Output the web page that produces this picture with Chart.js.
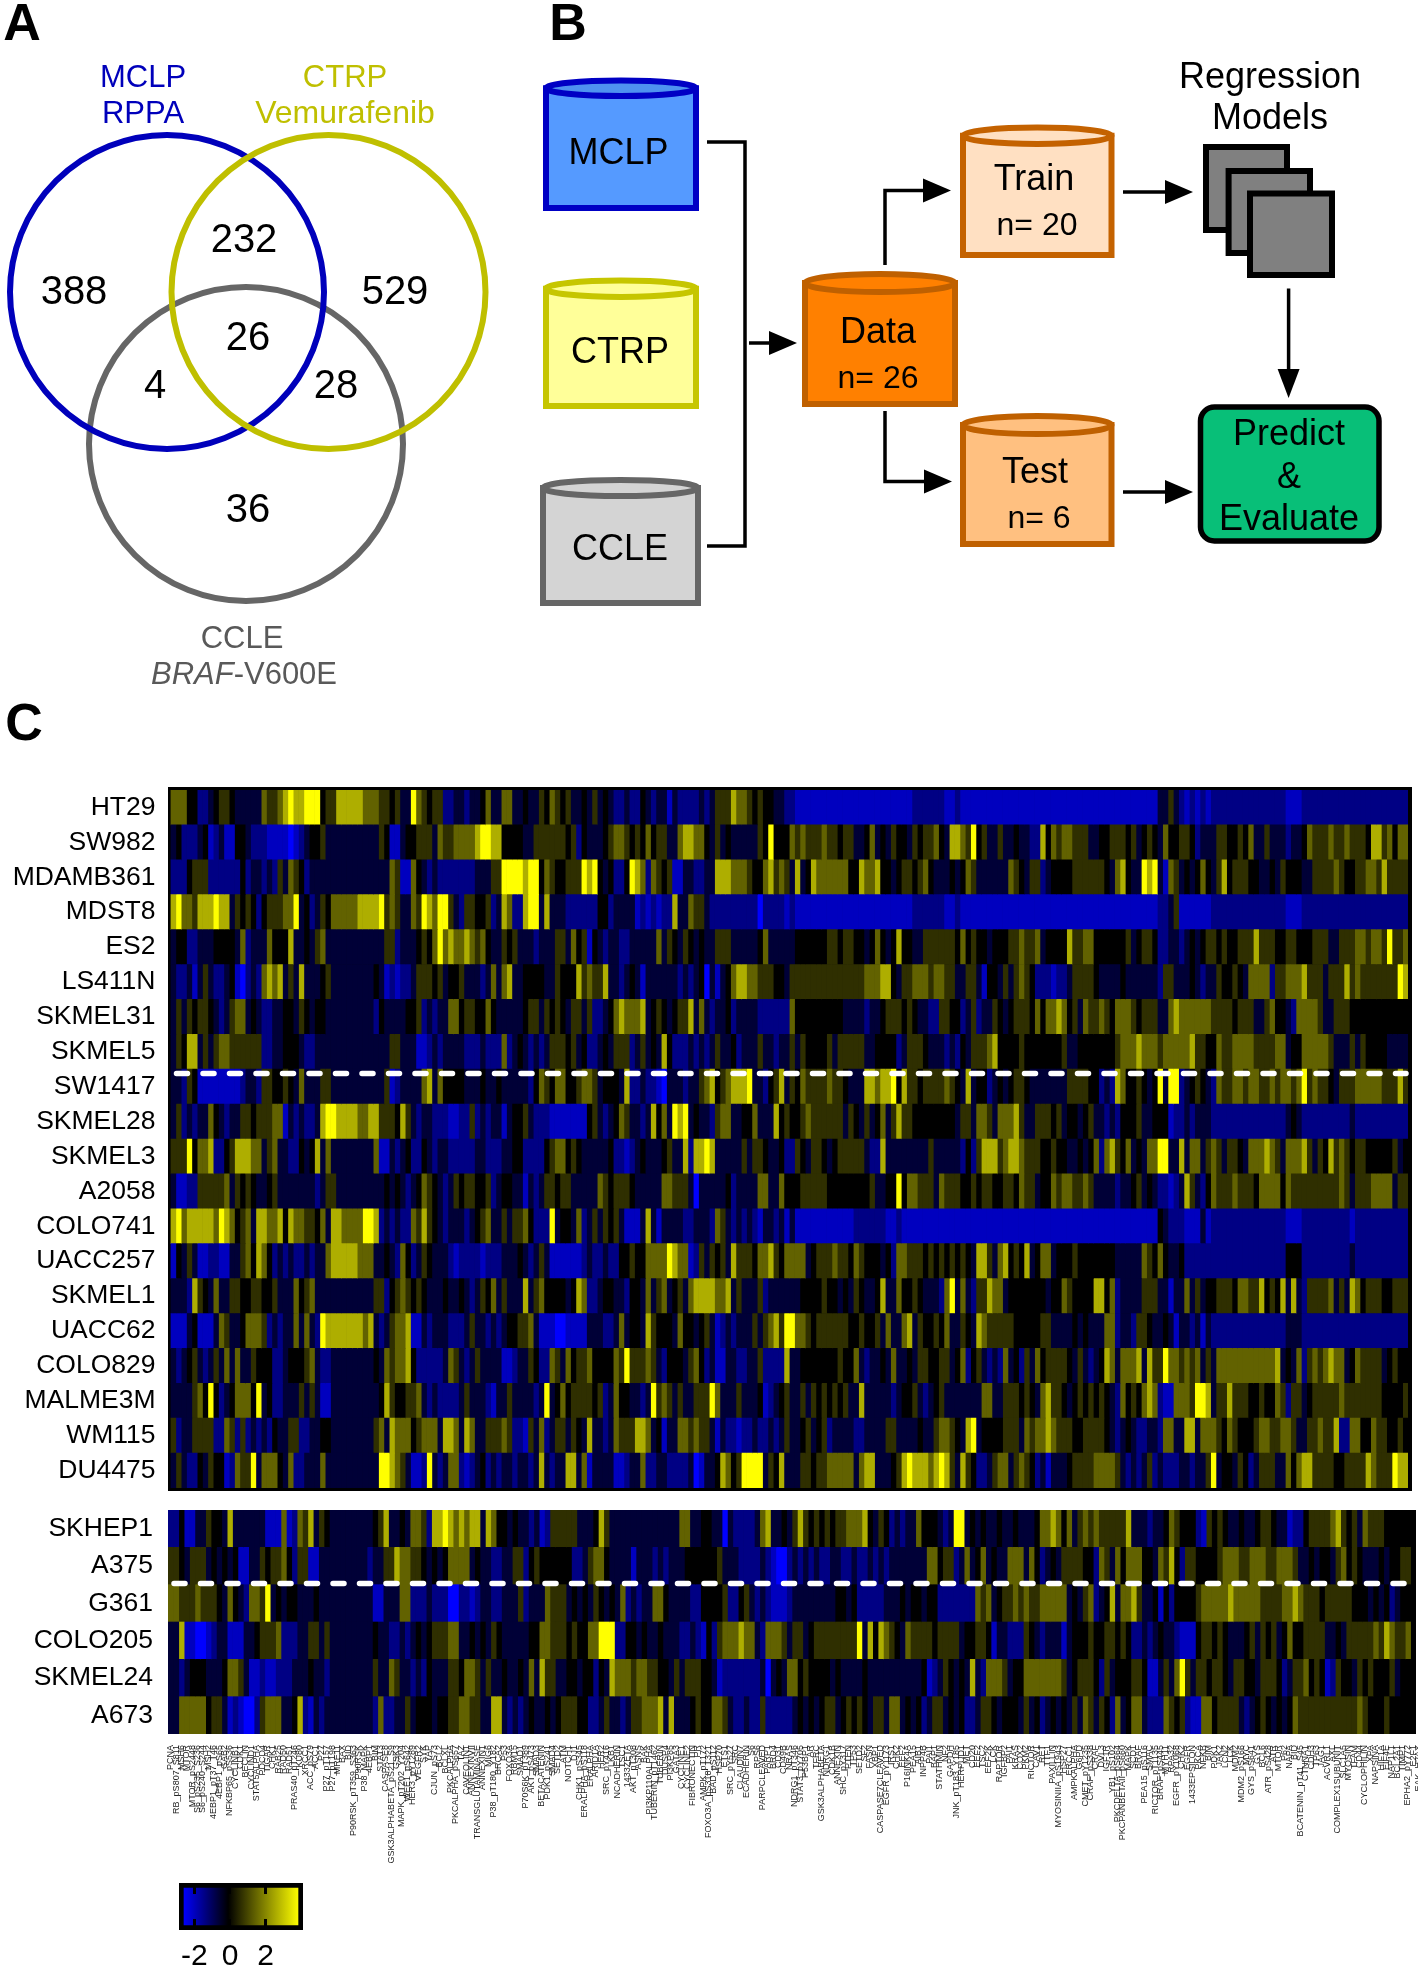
<!DOCTYPE html>
<html>
<head>
<meta charset="utf-8">
<script src="https://cdn.jsdelivr.net/npm/chart.js@4"></script>
<style>
  body { margin: 0; background: #fff; width: 1418px; height: 1967px; position: relative; overflow: hidden; }
  canvas { position: absolute; }
</style>
</head>
<body>
<canvas id="diagram" width="1418" height="780" style="left:0;top:0"></canvas>
<canvas id="heatTop" width="1418" height="720" style="left:0;top:780px"></canvas>
<canvas id="heatBottom" width="1418" height="380" style="left:0;top:1500px"></canvas>
<canvas id="colorbar" width="200" height="97" style="left:150px;top:1870px"></canvas>
<script>
// Panel A: counts of each Venn region
const vennCounts = [388, 232, 529, 26, 4, 28, 36];

// Panel B
const flowSizes = { train: 20, test: 6, data: 26 };

// Panel C: cell lines
const rowLabelsTop = ['HT29','SW982','MDAMB361','MDST8','ES2','LS411N','SKMEL31','SKMEL5','SW1417','SKMEL28',
  'SKMEL3','A2058','COLO741','UACC257','SKMEL1','UACC62','COLO829','MALME3M','WM115','DU4475'];
const rowLabelsBottom = ['SKHEP1','A375','G361','COLO205','SKMEL24','A673'];

// Heat values as digits, an index into heatLevels. Spaces are only for reading.
const heatLevels = [-3, -2.25, -1.55, -0.65, 0, 0.55, 1.15, 2.05, 3];
const heatTopLeft = [
  '666 44 223 455 4 33333 6 556 7 8 77 888 4 55 777 77 666 55 4 5 33 8 6 5 4 5 5 223 3 2 334 6 33',
  '34 222 34 1 23 11 44 322 2 1111 0 12 3 44 5 3 333333333 5 4 11 3 44 555 3 65 566 66 788 77',
  '222 4 555 222222 4 2 33 232 53 6 5 4 23 33333333333333 6 5 11 6 4 32322 22222 333 55',
  '78 665 777 8 77 3 5 4 5 4 2 4 555 6 6 8 34 2 3 5 4 66666 777 7 8 5 65 33 65 8 76 88 5 32 55 445 23',
  '3 44 223 33444 43 6 2 333 6 444 7 3 343 5 6 33333333333 55 23 334 54 6 8 67 66 7 6 5 6 43 33',
  '3223 1 3 5 3 22 34 10 232 676 7 3 5 3 7 333 45 33333333 4 3 12122 3 555 4 5 344 5 33323 6 3',
  '3 5 3 5 4 55 4 323 5 66 3 4 3 22 33 4 43 5 4 3 4 4 3 33333333 2 433334 45 23233 66 4 55 44 6 43',
  '3 5 4 77 3 5 3 566555555 2 233 4443 2 233 333333333 3 33 55 333 11 2323 333 222 3 222',
  '3 32 5 4 111 11111 23 32 5 544 5 4 3 6 333 55 33333333 33 5 12 333 3 67 3 6 4 4443334334',
  '3 5 23 2 33 6 43 233 5545 55 66 1 323 22 3 7 8 8 77776677 5554 7 5 3 233222 11 22 5 23 2 33',
  '555 8 4 66 7 22 45 777 66 3 5 6 33 22 4 3 4 7 3 6 33333333 6 11 32 34 22 43 2 33 22222 332 22',
  '3 11 22 55555 6 3 5 4 5 4 3 3 4 5 3333333 2 3 5 5 333333333 4343 23 4 6 54 32 3 545 5 44 5 232',
  '7 8 6 7777 7 6 8 76 4 5 6 3 7766 7 4 7 6 655 4 6 3 776666 88 7 23 23 22 6 5 7 54 32333 2 3 4 5 6 33',
  '1 43 5 3 11 22 11 33 56 4 76 4 232322 3 2 33 6 777776 66 3 34 32 6 4 23 54 333 212 222 1222',
  '3332 7 5 4 3 6 33 55 44 55 44 5 333 6 45 6 333 33333333 55 2 45 65 45 43334 334 3 2 3 54 6 3',
  '111 34 111 3 65 33 4 6665 2 3 2 3 3 6 3 6 3 2 8777777767 3 2 3 5 667 11 32 33322 23 5 33 232',
  '3 2 3 45 32 3 53 6 3 6 33 5 444 22 3 444 5 6 3 22 33333333 4 3 6 56 67 4 222223 65 3 23 5 3333',
  '3333 5 6 4 8 4 23 4 666 4 8 3 4 223 33 5 3 5 3 11 33333333 34 7 5 44 5 56 32322 223 5 333 2 1 3',
  '5 2 3 3 5 555 22 65 2 5 232 3 2 4 33 5 5 22 33 44 33333333 56 3 7666 4 56 66 3 776 3 76 33 555',
  '3 5 3 22 4 3 5 44 12 6 55 8 3 666 43 6 22 333 6 3 33333333 3 88 76 5 3 1 12 8 3 2 3 66 212 3 4 232'
];
const heatTopMid = [
  '66 33 4 33 5 4 6 5 4 5 3343 5 34 3 22 3 22 43 23 3 1 3 2222 3 2 3 555 7 6 65 4 544 3 3 22 1111111111 1111111111 11222222 11 2 1',
  '44 44 3 3 55 55 55 4 5 2 4 333 4 5 66 54 5 4 6 4 55 33 6 77 66 4 3 5 34 33333 54 8 44 4 6 56 555 6 55 4 55 334 6 3 43 5 443 5 4 55 6 43 77',
  '8888 78 8 4 6 5 4 4 555 8 7 8 4 3 4 22 4 8 7 6 2 65 4 5 11 33 223 3 777 666 54 4 6 7 565 3 7 34 766 6666 44 7667 4434 554 56 4 333 43',
  '76 22 788 3 7 3 332 22222 44 233 33 1212122 7 33 655 32 22222222 0 2222 12 1111111111 1111111111 11222222 11 2 1',
  '54 5 333 2333 55 3 6 4 5 1 4 3 2 33 22 3 3333 6 3 5 43 5 43 4 33 555 333334 6 3 33 33 444444 55 4 554 434 6 4 34 7 44 33 5555 554',
  '67 334 444 33 5444 7 5655 7 3323 4 3 1 333333 232 34 0 3 1 34 67766 55 5443 55555555555555 66677 4 3 556 66 5 66 55 3',
  '33334 55 3 545 43 55 3 5 22 3 4 6 7 6 667 34 5434 5 5 7 3 6 32 334 233 33 222222 6 4 44444444 3 33 3233 4 555 4 54 33 22 55 4 43',
  '6 2 3 43 2 3 23 555 4 5 3 4 22 343 555 2 3 5 343 7 4 222 3 232 3 5 33 4 2333 5 3 32 3 3 5 3 5 4444 535 55 55 334 444 23 555 433 3232',
  '333 33 2 4 65 4 66 44 5 66 53 44 43 7 223 221 0 33 3233 56 7 456 7 77 8 3 32 45 7 3 54 65555 65 543 33 776 778 4 7 554 55 55654',
  '1 3 44 53 22 2 1111111 45 3 23 4 65 33 2 3 7 4 6 3 8 78 343 3 2 566 3344 6 333 7 4544 56 555555 3 543 534 6 35 7 554444444433',
  '3 344 2222 4566 45 43 33334 22 1 23 4 3334 5 33 7 2 7787 33333 5 3 55 4334 22 54 3 55 4 34 55555 3 22 7 33 333333 5 33333',
  '44 33 1 323 55 4 55 33333 65 4 555 4 33 333 66 5 55 3 0 3 333 34 23 33 3 66 3 3 6 444 55 55 544 444 444 5 33 44 8 4 66 5 55 3 6 555',
  '5 35 5 6 4 222 8 3 44 3 6 23 5 3 5 4 5 3 111 3 7 3 1 3333 22 33 32 6 5 323232 1 3323 1 3 11111111111 222222 11 2 111111111111',
  '3334 3 23 5 3 111111 232 23 22 44 54 4 66 66 8 7 6 6 12 5 3 5 4 5 3 7 555 4 66 7 5 4 6666 34 555 6 554 6 54 44 3 4 2 66 55 54 54 545',
  '5333 7 3 5 6 4 444 34 76 223 443 32443 6 3 5 6 34 5 3 67777667 3 5 333 5 2 333333 44 445443 4 3 54 334 7 33 6 445 433 32 6 8 3',
  '34 455 6 3 111001111 333 223 6 3 443 75 4 44 3 6 44 34 5 3 1 232333 5 3 56 7 5 88 665 45555 55445 44 5 3 6 33 67 3 544 54 6 33',
  '11 233 5 4 2 2 6 5 3 6 4 556 4444 65 8 55 565 3 2 4443 5 6 4 23 11 332233 5 2222 7 3 34444444 5 44 6 3 233 43 6 3343 55 44 55 34',
  '3 5 333 3 23 8 3 4 6 455554 5 23 6 44 3323 8 5 6 53 5 33 55 5 8 6 333 5 333 4 12 34 5 33 5 3 545 4545 33 7 333 33 23 445 3 2 34 5 333',
  '6 5 22 1 5 3 6 23 55 3 5 43 7 3323 6 555 77 6 3 4 1 33 6 65 6 55 3 1 3 221223 22323 5 33 4 5 34 5 23 333 223 3335 5 3333 4 33 5 66 54',
  '3323323 7 3 2 33 77 3 6 1 3333 11 233 6 2233 2222 3 01 3 3 4 76 45 8888 3 54 7 333 55455 6666 6 3 677 333 45 787 776 78 7 53'
];
const heatTopRight = [
  '1111111111 1111111111 1111111111 1111111 33 5 3 21212 1 22222222222222 111 22222222222222222222',
  '6 5 8 4 5 3 3 5 33 4 33 22 7 4 6 5 66 55 5 334 4 555 4 5 3 4 5 43 6 44 554 2 333 55 44 54 6 33 5 333 233 4 6555 6 55 6 55 54 77 5 6 4 66',
  '4 65 3333 33 6 5 4 3 55 2 3 444 455 5555 43 67 433 878 3 1 6 5 343 4 6 43 5 7 45 5544 3343 5 4443 3 5555 6 5 44 55665 7 5555',
  '1111111111 1111111111 1111111111 1111111 223 5 111111 22222222222222 111 22222222222222222222',
  '6 45 4 43 444 55 6 55 6 34 444 7 55 66 444444 5 34 554 2233 2 34345 54544 555 7 555 44 554 44555 33 555 665 665 8 556',
  '3 55 3 1 44 3 5 35 6 54 222 122 3 5555 4 33334 333333 2 55 333 4 3 2 33 5 445 43 6666 2 55 666 7 555 3 555 7 5 655 55555 8 7',
  '2 35 233 54 34555 46 4 6676 45 3 65565 4 6665 4 555 33 6 7 66666655 55 4555 33 56 443 2 66665 33 55544444444444',
  '4 35 55 67 444 454 4444 445 334 444444 5666 7666 5 666 66 7 5544 6 55 6666 555 566 344 66666 5 33 3 5 3 5 4444 3333',
  '3 7 3 44 2 34 34 5 5433 33333 555 544 232 7 6 445434 8 3 88 2 34 54 32 65 5665 6655 65 665 6 8 5 6554 3 555 66666 555 7 5',
  '5 5 3 665 3 666 7 5 33 55545 3 443 4 5 33 23 24 44 53 34 44 12 232 333 22222222222222 343 222222222 3 2222222222',
  '2 4 2 5 777 5 6 776 5 55445 443 3 434 6 2 67 54 6 343 66 88 33 7 3 66 3 56 5 3 55 43 66 676 5 3 66 67 5 3 54 7 565 45 544444 534',
  '44 5 45 5 44 55 4 6 55 34 4 6 566 55 6 5 333 32334 5 34 3 2212 3 7 5 3 2 4 6 555 6 5554 6666 4 6 5555 5555565 3 555 6666 3 5 5',
  '1111111111 1111111111 1111111111 1111111 43 222 111 3 1 22222222222222 111 222222222 1 2222222222',
  '5 43 77 5 3 67 454 7 34 66 3444 5 44 44444 33333 65 4 6 433 4 22222 22222222222222 444 222222222 3 2222222222',
  '6 32 55 7 66 34 444444 3 44 65 44 44 77 46 23 333 555 33 1 33 6 3 5 344 5554 66 55 7 4 54 7 3 7 32 5555 6 3 53 76 4 55544 555',
  '5 4 3 7 655 555 444445 5 3333 4 343 33 66 23 3 2 554 33 4 31 33 2 3 1 3 22222222222222 333 222222222 22222222222',
  '6 2 45 32 3 2 6 3 4 2 5 3 6 4555 543 5 323 4 76 3 666 7 3 7 55 8 66 5656 3 5 3 66666666666 7 34 3 6 2 565 6766 34 6 5555 34 5 44',
  '3333 66 3 3 5 55 454 3 67 5 54 3 4545454 32 6 4 54 676 2 11 666 5 88 7 3 55 7 555 44544 6 5 2 55 34 55555 6 555555544445',
  '3 7 8 344 44 555 3 65 6676 555 44 5555 43 2 343 2233 2 66 33 77 3 666 54 65 444 56 65 56 65 33 55655 7 22 66 44 655 4454',
  '7 5 4 22 3 5 66 35 6 5 4 2 3 1 333 4 5 555 66665 3 2 3 2 3 5 23222 3323 35 8 34 4 3 54 2 3 555 33 6 4 677 55 55445 555 7 655 5 8 77'
];
const heatBottomLeft = [
  '22 4 11 33 544 3 7 33 3333 111 6 12 65 7 354 33333333 45 7 3343 66 52 778767677 3 76 443 43323 12 55555 3334 7 53 333333333333 66 33',
  '554 35 55 343434 11 33 545564 2 55 113 33333333 233 55 7 66 55 43434 6666 3 433 2 233 55 24 54 44444 223 56 64 3333 1 333232 33344',
  '665 556 5554 3 643 2 66 5 8 34 344 3 33433 33333333 11 333 66 2223 222 00 22 1 233 22333 52 333 6555 34343 543 43 6 23233 66 4333322',
  '33 7 11 00 123 3 111 33 4 555 6 222 335 5 35 33333333 433 2232 3434 555 66 33434 354 3333344 66 555 4544 66 888 22 443433 433322321',
  '332 3444 3334 665 3 112 112 223 334332 33333333 5 33 65 33 2324 333 554 665 3 5 3343 343 6 3 7 55 33 44 34 4 2 43 7666 566 55 443 53 555',
  '33 6 6666 455 3 12 100 2 5666 334 7 21 323 33333333 2 6 2 233 5 34 44344 55 66 55 33 77 32 32343 343 455 544 223 53 323 55666 7 3 7 33 34544'
];
const heatBottomRight = [
  '33 0 322223 67 33 4 3 5 7 54545455 6667 4 35 423 233 6 444 323 88 343 43343343334 66 764 6 3 565655555 7 33323 34 65 4442 1 545433433455433 1 22 45555 67 545 3 6555444',
  '4 5 333 2222 3 2 100 23232322 33223 22 32 32 33 33333 66 455 23 6 34 6 3433 666 3 64 23 43 55554 4 2 65 3 64 666 443 65 7 42 5544 445 66655 66 65566 65 3343443 564543 33434455',
  '445 22 4 53 232 111 23 333333344 34 2222233 343443 44 2222222 656 34 55656556 66 66 343 56 23 4 7 3 66 7 53 34 1 42 4444 566666 766666 555566 76 55545555544 43434 234',
  '2 56 66766 32 6665 3 55 34 55555555 8 3 7 4 7 6 54 3 6 55554 5555 3 44554 1 33222 543 2 333 1 34 44544 55454 22323 4 332 111 455 454333 45354534 6 44 5555 3343 55555 6576556',
  '3 1 2222222 3 0 343 66 4 5 4444 343333433333 33333 41 23 54 343 7 3 2 6665 344 66666665 3455 54 2 5 34 44554 11 353 6 8 535 5 45 543 55 443 5554 23 55645 4 12 54 4354544453',
  '665 322322 5 22222 343434 55 345454 3 55 3 66 3 434 23 55 34342 23 554 3444 3534 23 43435 36 53 54 2 6 34 66 32 22 6 545 211 66 45555 323 454 3434 6 55555555555 6544454444'
];

// Protein names under the heat map, one per column
const proteinLabels = ('PCNA RB_pS807_S811 MSH6 MTOR MTOR_pS2448 S6_pS235_S236 S6_pS240_S244 MSH2 4EBP1_pT37_T46 4EBP1_pS65 GAB2 NFKBP65_pS536 ' +
  'CYCLINB1 CDK1 BECLIN CYCLIND1 STAT5ALPHA PDCD4 TIGAR CHK1 RAB25 RAD50 RAD51 PRAS40_pT246 KU80 XRCC1 ACC_pS79 ACC1 P27 P27_pT157 P27_pT198 MRE11 ' +
  'BAX BID P90RSK_pT359_S363 P90RSK P38_MAPK 4EBP1 BIM STAT3 CASPASE8 GSK3ALPHABETA_pS21_S9 GSK3 MAPK_pT202_Y204 WEE1_pS642 HER3_pY1289 VEGFR2 SYK YAP ' +
  'CJUN_pS73 BCL2 BCLXL PKCALPHA PKCALPHA_pS657 TAZ CAVEOLIN1 ANNEXINVII TRANSGLUTAMINASE ANNEXIN1 MIG6 P38_pT180_Y182 BRCA2 P53 FOXO3A RBM15 SMAD1 ' +
  'P70S6K_pT389 AKT_pS473 SMAD3 BETACATENIN PDK1_pS241 SMAD4 SETD2 ATM NOTCH1 DJ1 CHK1_pS345 ERALPHA_pS118 ERALPHA ARID1A HER2 SRC_pY416 LKB1 NCADHERIN ' +
  'TSC1 1433ZETA AKT_pT308 ASNS BAK PI3KP110ALPHA TUBERIN_pT1462 TUBERIN DUSP4 PI3KP85 GATA3 CYCLINE1 CYCLINE2 FIBRONECTIN PR AMPK_pT172 FOXO3A_pS318_T321 ' +
  'BAD_pS112 HSP70 ETS1 SRC_pY527 SRC CLAUDIN7 ECADHERIN S6 RPS6 PARPCLEAVED PARP1 BRD4 CD31 CD49B NRAS NDRG1_pT346 STAT3_pY705 P53BP1 AR TFRC ' +
  'GSK3ALPHABETA NDRG1 CDK1B ANNEXIN SHC_pY317 PTEN TP53 SETD2 SF2 FASN XBP1 CASPASE7CLEAVED EGFR_pY1173 IRS1 CHK2 EEF2 P16INK4A PEA15 AIB1 INPP4B ' +
  'PAI1 BAP1 STATHMIN NF2 GAPDH JNK_pT183_Y185 HERPUD1 MET CD20 EEF2 TSC2 EEF2K LCK RAPTOR IGFBP2 PAI1 KRAS COX2 PKM2 RICTOR CAV1 RET TTF1 PAXILLIN ' +
  'MYOSINIIA_pS1943 HSP27 ERCC1 AMPKALPHA G6PD CMET_pY1235 CRAF_pS338 CRAF DVL3 IGF1R YB1_pS102 PKCDELTA_pS664 PKCPANBETAII_pS660 MAPK SCD1 BRAF PEA15_pS116 ' +
  'SMAC RICTOR_pT1135 BRAF_pS445 MYH11 RPA32 EGFR_pY1068 CHK2 EGFR 1433EPSILON PKCA NFKB BIM PDK1 JAK2 LCN2 LCK MDM2 MDM2_pS166 MYC GYS_pS641 GYS BCL6 ' +
  'ATR_pS428 ATR MTOR P62 NAPA BID BCATENIN_pT41_S45 CTNNA1 CDH3 TP63 JAG1 ACVRL1 AXL COMPLEX1SUBUNIT SLC1A5 MYOSIN TFAM CD44 CYCLOPHILIN XPA ' +
  'NAPSINA HIF1A EIF4E NAP1L1 BCL2A1 TIMP1 EPHA2_pY772 E2F1 EAK_H2AX HISTONEH3').split(' ');

const heatColumns = 232;
const colorbarTicks = [-2, 0, 2];
const colorbarRange = [-2.87, 4.11];

Chart.defaults.font.family = '"Liberation Sans", Arial, sans-serif';
Chart.defaults.animation = false;

function rowValues(parts, sizes) {
  return parts.map((p, i) => p.replace(/ /g, '').padEnd(sizes[i], '4').slice(0, sizes[i]))
    .join('').split('').map(d => heatLevels[Number(d)]);
}
function heatColor(v) {
  const level = Math.round(Math.min(Math.abs(v) / 3, 1) * 255);
  return v < 0 ? `rgb(0,0,${level})` : `rgb(${level},${level},0)`;
}
function heatDatasets(values) {
  const sets = [];
  for (let c = 0; c < heatColumns; c++) {
    sets.push({
      data: values.map(() => 1),
      backgroundColor: values.map(row => heatColor(row[c])),
      borderWidth: 0,
      barPercentage: 1,
      categoryPercentage: 1,
      stack: 'cells'
    });
  }
  return sets;
}

// Black plate behind the cells and the white dashed line between resistant and sensitive lines
function heatPlugin(dividerRow, plate, dashEnd) {
  return {
    id: 'heatPlate',
    beforeDatasetsDraw(chart) {
      const a = chart.chartArea, c = chart.ctx;
      c.save();
      c.fillStyle = '#000';
      c.fillRect(a.left - plate[0], a.top - plate[1], a.width + plate[0] + plate[2], a.height + plate[1] + plate[3]);
      c.restore();
    },
    afterDatasetsDraw(chart) {
      const a = chart.chartArea, c = chart.ctx;
      const y = chart.scales.y.getPixelForValue(dividerRow);
      c.save();
      c.strokeStyle = '#fff';
      c.lineWidth = 5.5;
      c.lineCap = 'round';
      c.setLineDash([11, 15.5]);
      c.beginPath();
      c.moveTo(a.left + 6, y);
      c.lineTo(dashEnd, y);
      c.stroke();
      c.restore();
    }
  };
}

function heatOptions(axisLeft, rightPad, topPad, bottomPad, fontSize, showColumns) {
  return {
    responsive: false,
    indexAxis: 'y',
    devicePixelRatio: 1,
    layout: { autoPadding: false, padding: { left: 0, right: rightPad, top: topPad, bottom: bottomPad } },
    plugins: { legend: { display: false }, tooltip: { enabled: false } },
    scales: {
      x: {
        stacked: true,
        min: 0,
        max: heatColumns,
        display: showColumns,
        grid: { display: false, drawTicks: false },
        border: { display: false },
        afterBuildTicks: axis => { axis.ticks = proteinLabels.map((_, i) => ({ value: i + 0.5 })); },
        afterFit: axis => {
          if (showColumns) axis.height = 146;
          axis.paddingLeft = 0;
          axis.paddingRight = 0;
        },
        ticks: {
          autoSkip: false,
          minRotation: 90,
          maxRotation: 90,
          padding: 11,
          color: '#222',
          font: { size: 9 },
          callback: (v, i) => proteinLabels[i]
        }
      },
      y: {
        stacked: true,
        grid: { display: false, drawTicks: false },
        border: { display: false },
        afterFit: axis => {
          axis.width = axisLeft;
          axis.paddingTop = 0;
          axis.paddingBottom = 0;
        },
        ticks: { autoSkip: false, color: '#000', padding: 15, font: { size: fontSize } }
      }
    }
  };
}

// Panel C, upper block
const topValues = rowLabelsTop.map((_, r) => rowValues([heatTopLeft[r], heatTopMid[r], heatTopRight[r]], [62, 86, 84]));
new Chart(document.getElementById('heatTop'), {
  type: 'bar',
  data: { labels: rowLabelsTop, datasets: heatDatasets(topValues) },
  options: heatOptions(170.5, 10, 10, 12, 26.5, false),
  plugins: [heatPlugin(7.62, [2.5, 3, 4, 3], 1406)]
});

// Panel C, lower block
const bottomValues = rowLabelsBottom.map((_, r) => rowValues([heatBottomLeft[r], heatBottomRight[r]], [101, 131]));
new Chart(document.getElementById('heatBottom'), {
  type: 'bar',
  data: { labels: rowLabelsBottom, datasets: heatDatasets(bottomValues) },
  options: heatOptions(168, 2, 10, 0, 26.5, true),
  plugins: [heatPlugin(1.47, [0, 0, 0, 0], 1414)]
});

// Colour key
new Chart(document.getElementById('colorbar'), {
  type: 'bar',
  data: {
    labels: ['key'],
    datasets: [{
      data: [colorbarRange],
      barPercentage: 1,
      categoryPercentage: 1,
      borderWidth: 5,
      borderColor: '#000',
      borderSkipped: false,
      backgroundColor(ctx) {
        const a = ctx.chart.chartArea;
        if (!a) return '#000';
        const g = ctx.chart.ctx.createLinearGradient(a.left + 4, 0, a.right - 4, 0);
        g.addColorStop(0, '#0000ff');
        g.addColorStop(0.39, '#000');
        g.addColorStop(1, '#ffff00');
        return g;
      }
    }]
  },
  options: {
    responsive: false,
    indexAxis: 'y',
    devicePixelRatio: 1,
    layout: { autoPadding: false, padding: { left: 29, right: 47, top: 13, bottom: 0 } },
    plugins: { legend: { display: false }, tooltip: { enabled: false } },
    scales: {
      x: {
        min: colorbarRange[0],
        max: colorbarRange[1],
        afterBuildTicks: axis => { axis.ticks = colorbarTicks.map(v => ({ value: v })); },
        afterFit: axis => { axis.height = 37; axis.paddingLeft = 0; axis.paddingRight = 0; },
        grid: { color: '#000', lineWidth: 3, drawTicks: false, z: 1 },
        border: { display: false, dash: [11, 25, 11, 0] },
        ticks: { color: '#000', padding: 9, font: { size: 30 }, callback: v => String(v) }
      },
      y: { display: false }
    }
  }
});

// Panels A and B share one chart whose scales run in page pixels
const vennCircles = [
  { x: 328.5, y: 292, r: 157, color: '#BFBF00', order: 1 },
  { x: 167, y: 292, r: 157, color: '#0000BB', order: 2 },
  { x: 246, y: 444, r: 157, color: '#666666', order: 3 }
];
const vennSpots = [[74, 290], [244, 238], [395, 290], [248, 336], [155, 384], [336, 384], [248, 508]];
const connectors = [
  [[707, 142], [745, 142], [745, 546], [707, 546]],
  [[749, 343], [775, 343]],
  [[885, 265], [885, 190.5], [930, 190.5]],
  [[885, 411], [885, 481.5], [930, 481.5]],
  [[1123, 192], [1170, 192]],
  [[1123, 492], [1170, 492]],
  [[1288.6, 288.5], [1288.6, 375]]
];
const arrowHeads = [[797, 343, 'r'], [951, 190.5, 'r'], [952, 481.5, 'r'], [1193, 192, 'r'], [1193, 492, 'r'], [1288.6, 398, 'd']];
const cylinders = [
  { name: 'MCLP', l: 543, r: 699, t: 77.5, e: 99, b: 211, fill: '#559AFF', cap: '#4F92F0', line: '#0000C4', tx: 618.5, ty: 151 },
  { name: 'CTRP', l: 543, r: 699, t: 277.5, e: 300, b: 409, fill: '#FFFF99', cap: '#FFFF99', line: '#C6C600', tx: 620, ty: 350 },
  { name: 'CCLE', l: 540, r: 701, t: 477, e: 499, b: 606, fill: '#D4D4D4', cap: '#D4D4D4', line: '#666666', tx: 620, ty: 547 },
  { name: 'Train', l: 960, r: 1114.5, t: 124.5, e: 147, b: 258, fill: '#FFE0C2', cap: '#FFE0C2', line: '#C46200', tx: 1034, ty: 177.5, sub: flowSizes.train, sx: 1037, sy: 223.6 },
  { name: 'Data', l: 802, r: 958, t: 271, e: 295, b: 407, fill: '#FF8000', cap: '#FF8000', line: '#BF6000', tx: 878, ty: 330.5, sub: flowSizes.data, sx: 878, sy: 376 },
  { name: 'Test', l: 960, r: 1114.5, t: 413, e: 437, b: 547, fill: '#FFC080', cap: '#FFC080', line: '#BF6000', tx: 1035, ty: 470, sub: flowSizes.test, sx: 1039, sy: 516 }
];
const modelSheets = [[1203, 144, 1290, 233], [1225.6, 168, 1313, 256], [1247, 190.6, 1335, 278]];

const diagramPlugin = {
  id: 'diagram',
  afterDatasetsDraw(chart) {
    const c = chart.ctx, sx = chart.scales.x, sy = chart.scales.y;
    const X = v => sx.getPixelForValue(v), Y = v => sy.getPixelForValue(v);
    const text = (s, x, y, font, color) => {
      c.font = font + ' "Liberation Sans", Arial, sans-serif';
      c.fillStyle = color || '#000';
      c.textAlign = 'center';
      c.textBaseline = 'middle';
      c.fillText(s, X(x), Y(y) + 3);
    };
    c.save();

    // Panel letters
    text('A', 22, 23, 'bold 52px');
    text('B', 568, 23, 'bold 52px');
    text('C', 24, 723, 'bold 52px');

    // Panel A texts
    text('MCLP', 143, 75, '31px', '#0000BB');
    text('RPPA', 143, 111, '31px', '#0000BB');
    text('CTRP', 345, 75, '31px', '#BFBF00');
    text('Vemurafenib', 345, 111, '32px', '#BFBF00');
    text('CCLE', 242, 636, '31px', '#595959');
    c.font = 'italic 31px "Liberation Sans", Arial, sans-serif';
    const wItalic = c.measureText('BRAF').width;
    c.font = '31px "Liberation Sans", Arial, sans-serif';
    const wPlain = c.measureText('-V600E').width;
    const startX = X(244) - (wItalic + wPlain) / 2;
    c.fillStyle = '#595959';
    c.textAlign = 'left';
    c.textBaseline = 'middle';
    c.font = 'italic 31px "Liberation Sans", Arial, sans-serif';
    c.fillText('BRAF', startX, Y(675));
    c.font = '31px "Liberation Sans", Arial, sans-serif';
    c.fillText('-V600E', startX + wItalic, Y(675));
    vennCounts.forEach((n, i) => text(String(n), vennSpots[i][0], vennSpots[i][1], '40px'));

    // Cylinders
    cylinders.forEach(d => {
      const lw = 6, L = X(d.l) + lw / 2, R = X(d.r) - lw / 2;
      const rx = (R - L) / 2, ry = (Y(d.e) - Y(d.t) - lw) / 2, cy = Y(d.t) + lw / 2 + ry;
      c.lineWidth = lw;
      c.strokeStyle = d.line;
      c.fillStyle = d.fill;
      c.beginPath();
      c.rect(L, cy, R - L, Y(d.b) - lw / 2 - cy);
      c.fill();
      c.stroke();
      c.fillStyle = d.cap;
      c.beginPath();
      c.ellipse(L + rx, cy, rx, ry, 0, 0, Math.PI * 2);
      c.fill();
      c.stroke();
      text(d.name, d.tx, d.ty, '36px');
      if (d.sub !== undefined) text('n= ' + d.sub, d.sx, d.sy, '32px');
    });

    // Arrow heads
    c.fillStyle = '#000';
    arrowHeads.forEach(([x, y, dir]) => {
      c.beginPath();
      c.moveTo(X(x), Y(y));
      if (dir === 'r') {
        c.lineTo(X(x) - 28, Y(y) - 12);
        c.lineTo(X(x) - 28, Y(y) + 12);
      } else {
        c.lineTo(X(x) - 11, Y(y) - 29);
        c.lineTo(X(x) + 11, Y(y) - 29);
      }
      c.closePath();
      c.fill();
    });

    // Regression models
    modelSheets.forEach(([l, t, r, b]) => {
      c.fillStyle = '#808080';
      c.strokeStyle = '#000';
      c.lineWidth = 6;
      c.beginPath();
      c.rect(X(l) + 3, Y(t) + 3, X(r) - X(l) - 6, Y(b) - Y(t) - 6);
      c.fill();
      c.stroke();
    });
    text('Regression', 1270, 75, '36px');
    text('Models', 1270, 116, '36px');

    // Predict box
    c.fillStyle = '#08BF78';
    c.strokeStyle = '#000';
    c.lineWidth = 5.5;
    c.beginPath();
    c.roundRect(X(1197.5) + 3, Y(404) + 3, X(1382) - X(1197.5) - 6, Y(544) - Y(404) - 6, 14);
    c.fill();
    c.stroke();
    text('Predict', 1289, 432.5, '36px');
    text('&', 1289, 475, '36px');
    text('Evaluate', 1289, 517, '36px');
    c.restore();
  }
};

new Chart(document.getElementById('diagram'), {
  type: 'scatter',
  data: {
    datasets: [
      ...vennCircles.map(v => ({
        data: [{ x: v.x, y: v.y }],
        order: v.order,
        pointRadius: v.r,
        pointBorderWidth: 6,
        pointBorderColor: v.color,
        pointBackgroundColor: 'transparent',
        clip: false
      })),
      ...connectors.map(line => ({
        data: line.map(p => ({ x: p[0], y: p[1] })),
        showLine: true,
        tension: 0,
        pointRadius: 0,
        borderColor: '#000',
        borderWidth: 3.5,
        order: 4
      }))
    ]
  },
  options: {
    responsive: false,
    devicePixelRatio: 1,
    layout: { autoPadding: false, padding: 0 },
    plugins: { legend: { display: false }, tooltip: { enabled: false } },
    scales: {
      x: { type: 'linear', min: 0, max: 1418, display: false },
      y: { type: 'linear', min: 0, max: 780, reverse: true, display: false }
    }
  },
  plugins: [diagramPlugin]
});
</script>
</body>
</html>
